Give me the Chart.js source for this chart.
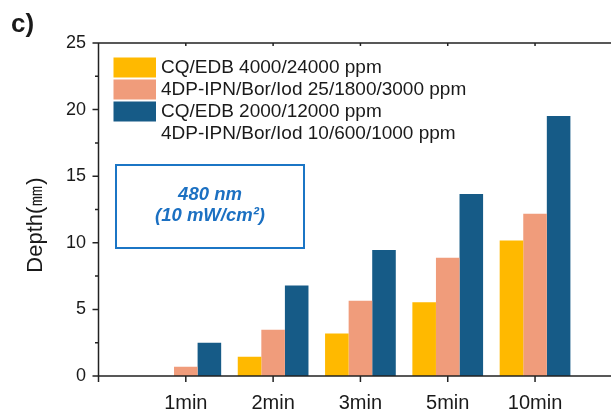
<!DOCTYPE html>
<html>
<head>
<meta charset="utf-8">
<script src="https://cdn.jsdelivr.net/npm/chart.js@4.4.0/dist/chart.umd.min.js"></script>
<style>
  html, body { margin: 0; padding: 0; background: #fff; }
</style>
</head>
<body>
<canvas id="bar-chart" width="611" height="414"></canvas>
<script>
// values (depth in mm)
const categories = ["1min", "2min", "3min", "5min", "10min"];
const cqEdbHigh = [0, 1.45, 3.2, 5.53, 10.18];
const dpIpnHigh = [0.7, 3.48, 5.65, 8.88, 12.19];
const combined = [2.5, 6.8, 9.46, 13.66, 19.52];
const legendLines = [
  "CQ/EDB 4000/24000 ppm",
  "4DP-IPN/Bor/Iod 25/1800/3000 ppm",
  "CQ/EDB 2000/12000 ppm",
  "4DP-IPN/Bor/Iod 10/600/1000 ppm",
];
const yTicks = [0, 5, 10, 15, 20, 25];

const FONT = "'Liberation Sans', Arial, sans-serif";
const INK = "#1a1a1a";
Chart.defaults.font.family = FONT;
Chart.defaults.color = INK;

function points(arr) {
  return arr.map(function (v, i) {
    return { x: i + 1, y: v };
  });
}

// axes frame, ticks, legend and the note box
const decorations = {
  id: "decorations",
  afterDraw(chart) {
    const ctx = chart.ctx;
    const a = chart.chartArea;
    const xs = chart.scales.x;
    const ys = chart.scales.y;
    ctx.save();

    ctx.strokeStyle = "#222";
    ctx.lineWidth = 1.5;
    ctx.beginPath();
    ctx.moveTo(a.left, a.top);
    ctx.lineTo(a.right, a.top);
    ctx.moveTo(a.left, a.top);
    ctx.lineTo(a.left, a.bottom);
    ctx.moveTo(a.left - 6, a.bottom);
    ctx.lineTo(a.right, a.bottom);
    for (let v = 0; v <= 25; v += 2.5) {
      const py = ys.getPixelForValue(v);
      const len = v % 5 === 0 ? 6 : 3.5;
      ctx.moveTo(a.left - len, py);
      ctx.lineTo(a.left, py);
    }
    for (let i = 0; i <= categories.length; i++) {
      const px = xs.getPixelForValue(i);
      ctx.moveTo(px, a.bottom);
      ctx.lineTo(px, a.bottom + 6);
      if (i > 0) {
        ctx.moveTo(px, a.top);
        ctx.lineTo(px, a.top + 3);
      }
    }
    ctx.stroke();

    // legend
    const sets = chart.data.datasets;
    ctx.font = "19px " + FONT;
    ctx.textBaseline = "middle";
    ctx.textAlign = "left";
    for (let i = 0; i < legendLines.length; i++) {
      const rowY = 57.5 + i * 22;
      if (sets[i]) {
        ctx.fillStyle = sets[i].backgroundColor;
        ctx.fillRect(113.5, rowY, 42.5, 20);
      }
      ctx.fillStyle = INK;
      ctx.fillText(legendLines[i], 161, rowY + 10);
    }

    // note box
    ctx.strokeStyle = "#1b75c5";
    ctx.lineWidth = 2;
    ctx.strokeRect(116, 165, 188, 83);
    ctx.fillStyle = "#1b70c2";
    ctx.textAlign = "center";
    ctx.font = "italic bold 18.5px " + FONT;
    ctx.fillText("480 nm", 210, 195);
    ctx.fillText("(10 mW/cm\u00b2)", 210, 216);

    // y title
    ctx.fillStyle = INK;
    ctx.font = "22px " + FONT;
    ctx.translate(36, 225);
    ctx.rotate(-Math.PI / 2);
    ctx.fillText("Depth(\u339c)", 0, 0);
    ctx.setTransform(1, 0, 0, 1, 0, 0);

    // panel letter
    ctx.textAlign = "left";
    ctx.font = "bold 26px " + FONT;
    ctx.fillText("c)", 11, 25);

    ctx.restore();
  },
};

new Chart(document.getElementById("bar-chart"), {
  type: "bar",
  data: {
    datasets: [
      { label: legendLines[0], data: points(cqEdbHigh), backgroundColor: "#ffb900" },
      { label: legendLines[1], data: points(dpIpnHigh), backgroundColor: "#f09c7b" },
      { label: legendLines[2], data: points(combined), backgroundColor: "#165b87" },
    ],
  },
  options: {
    responsive: false,
    animation: false,
    devicePixelRatio: 1,
    layout: { padding: { top: 43, right: 0, left: 0, bottom: 0 } },
    datasets: {
      bar: { categoryPercentage: 0.81, barPercentage: 1.0, borderWidth: 0 },
    },
    plugins: {
      legend: { display: false },
      title: { display: false },
      tooltip: { enabled: false },
    },
    scales: {
      x: {
        type: "linear",
        min: 0,
        max: 5.87,
        offset: false,
        afterFit(s) { s.height = 38; },
        afterBuildTicks(s) {
          s.ticks = [0, 1, 2, 3, 4, 5].map(function (v) { return { value: v }; });
        },
        grid: { display: false, drawTicks: false },
        border: { display: false },
        ticks: {
          padding: 15,
          font: { size: 20 },
          color: INK,
          maxRotation: 0,
          autoSkip: false,
          callback: function (v) { return categories[v - 1] || ""; },
        },
      },
      y: {
        min: 0,
        max: 25,
        afterFit(s) { s.width = 98.5; },
        afterBuildTicks(s) {
          s.ticks = yTicks.map(function (v) { return { value: v }; });
        },
        grid: { display: false, drawTicks: false },
        border: { display: false },
        ticks: { padding: 12.5, font: { size: 18 }, color: INK },
      },
    },
  },
  plugins: [decorations],
});
</script>
</body>
</html>
